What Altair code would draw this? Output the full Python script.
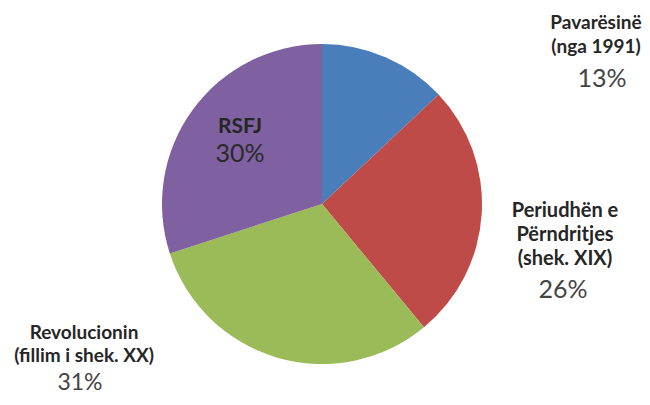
import altair as alt
import pandas as pd

categories = ["Pavarësinë\n(nga 1991)", "Periudhën e\nPërndritjes\n(shek. XIX)",
              "Revolucionin\n(fillim i shek. XX)", "RSFJ"]
keys = ["pav", "per", "rev", "rsfj"]
values = [13, 26, 31, 30]
colors = ["#4A7EBB", "#BE4B48", "#9BBB59", "#7F60A0"]

df = pd.DataFrame({"key": keys, "cat": categories, "value": values, "order": list(range(len(keys)))})
df["pct"] = df["value"].astype(str) + "%"

base = alt.Chart(df)

pie = base.mark_arc(outerRadius=160).encode(
    theta=alt.Theta("value:Q", stack=True),
    color=alt.Color("key:N", scale=alt.Scale(domain=keys, range=colors), legend=None),
    order=alt.Order("order:Q"),
    x=alt.value(314),
    y=alt.value(196),
)

FONT = "Lato"
TITLE_COLOR = "#262626"

# label placements (chart coordinates):
# key -> (title_x, title_y, pct_x, pct_y, title_size, pct_size, line_height, pct_color)
placements = {
    "pav": (588, 21, 594, 79, 19, 25, 24, "#454545"),
    "per": (557, 209, 555, 290, 20, 25, 24, "#454545"),
    "rev": (76, 331, 72, 382, 19, 23, 23, "#454545"),
    "rsfj": (232, 125, 232, 154, 21, 25, 24, "#2a2a2a"),
}

layers = [pie]
for k, (tx, ty, px, py, ts, ps, lh, pc) in placements.items():
    sub = base.transform_filter(alt.datum.key == k)
    layers.append(
        sub.mark_text(x=tx, y=ty, font=FONT, fontSize=ts, fontWeight="bold",
                      color=TITLE_COLOR, align="center", baseline="alphabetic",
                      lineBreak="\n", lineHeight=lh).encode(text="cat:N")
    )
    layers.append(
        sub.mark_text(x=px, y=py, font=FONT, fontSize=ps, color=pc,
                      align="center", baseline="alphabetic").encode(text="pct:N")
    )

chart = alt.layer(*layers).properties(
    width=634, height=389, padding=0, autosize="none"
).configure_view(stroke=None)

chart.save("out.html", embed_options={"renderer": "svg", "actions": False})
